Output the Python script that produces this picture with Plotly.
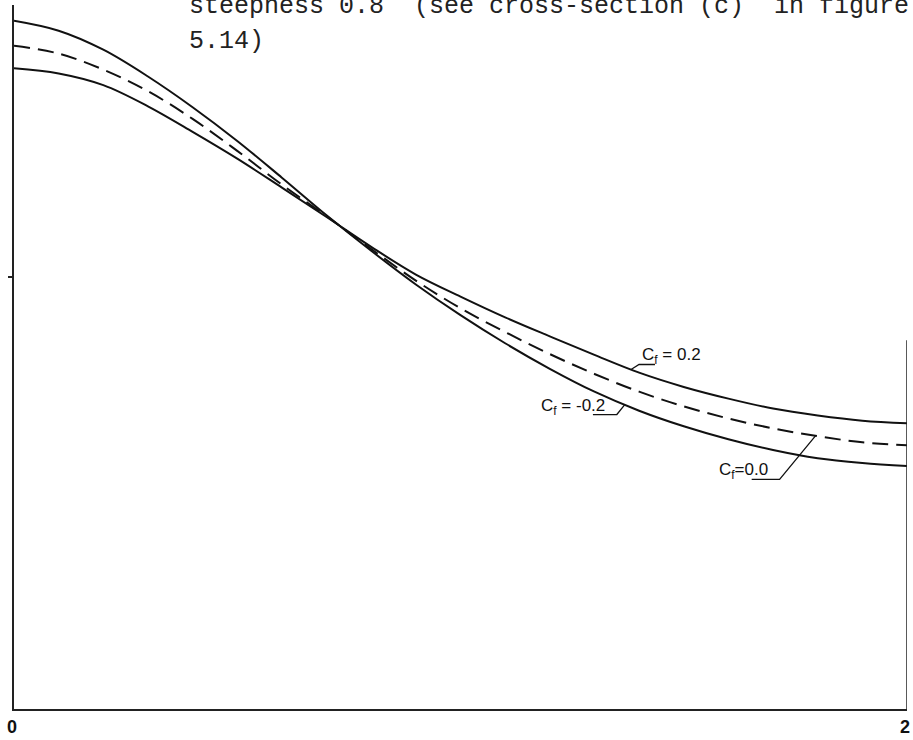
import numpy as np
import plotly.graph_objects as go

# ---- data ----
x_vals = [0.0, 0.1, 0.2, 0.3, 0.4, 0.5, 0.6, 0.7, 0.8, 0.9, 1.0,
          1.1, 1.2, 1.3, 1.4, 1.5, 1.6, 1.7, 1.8, 1.9, 2.0]
y_cf_m02 = [1.592, 1.569, 1.525, 1.463, 1.392, 1.314, 1.229, 1.142, 1.060, 0.982, 0.911,
            0.846, 0.787, 0.734, 0.690, 0.654, 0.624, 0.599, 0.580, 0.569, 0.562]
y_cf_00 = [1.534, 1.516, 1.479, 1.429, 1.365, 1.291, 1.213, 1.140, 1.064, 0.991, 0.927,
           0.872, 0.821, 0.775, 0.734, 0.700, 0.672, 0.649, 0.631, 0.617, 0.610]
y_cf_p02 = [1.482, 1.470, 1.443, 1.394, 1.335, 1.273, 1.206, 1.138, 1.069, 1.005, 0.954,
            0.906, 0.862, 0.819, 0.778, 0.745, 0.718, 0.695, 0.679, 0.667, 0.661]
x_tick_vals = [0, 2]
x_tick_text = ["0", "2"]
y_tick_vals = [1.0]
caption_lines = ["steepness 0.8  (see cross-section (c)  in figure", "5.14)"]
label_texts = ["C<sub>f</sub> = 0.2", "C<sub>f</sub> = -0.2", "C<sub>f</sub>=0.0"]
label_anchor_x = [1.382, 1.368, 1.795]
right_frame_top = 0.853

# ---- layout geometry ----
W, H = 913, 740
ML, MR, MT, MB = 14, 3, 5, 25
PW, PH = W - ML - MR, H - MT - MB
X_RANGE = [0, 2]
Y_RANGE = [0, PH / 436.0]
px_x = (X_RANGE[1] - X_RANGE[0]) / PW   # data units per pixel
px_y = (Y_RANGE[1] - Y_RANGE[0]) / PH

fig = go.Figure()
line_col = "#111111"
line_common = dict(color=line_col, width=2, shape="spline", smoothing=1.0)
fig.add_trace(go.Scatter(x=x_vals, y=y_cf_m02, mode="lines", line=line_common,
                         showlegend=False, hoverinfo="skip"))
fig.add_trace(go.Scatter(x=x_vals, y=y_cf_00, mode="lines",
                         line=dict(line_common, dash="16px,8px"),
                         showlegend=False, hoverinfo="skip"))
fig.add_trace(go.Scatter(x=x_vals, y=y_cf_p02, mode="lines", line=line_common,
                         showlegend=False, hoverinfo="skip"))

# right frame line
fig.add_shape(type="line", xref="x", yref="y", x0=x_vals[-1], x1=x_vals[-1],
              y0=0, y1=right_frame_top, line=dict(color="#222", width=1.5))

# leader lines + labels
curves = [y_cf_p02, y_cf_m02, y_cf_00]
leaders = [
    [(0, 0), (8, -5), (24, -5)],
    [(0, 0), (-8, 10), (-32, 10)],
    [(0, 0), (-36, 44), (-64, 44)],
]
text_pos = [  # (xshift, yshift(up), xanchor)
    (9, 13, "left"),
    (-18, -2, "right"),
    (-45, -35, "right"),
]
lab_font = dict(family="Liberation Sans Narrow, Liberation Sans, Arial", size=17, color="#111")
for i in range(3):
    ax = label_anchor_x[i]
    ay = float(np.interp(ax, x_vals, curves[i]))
    pts = [(ax + dx * px_x, ay - dy * px_y) for dx, dy in leaders[i]]
    path = "M " + " L ".join(f"{px},{py}" for px, py in pts)
    fig.add_shape(type="path", xref="x", yref="y", path=path,
                  line=dict(color="#111", width=1.3))
    xs, ys, xa = text_pos[i]
    fig.add_annotation(x=ax, y=ay, xref="x", yref="y", text=label_texts[i],
                       showarrow=False, xanchor=xa, yanchor="middle",
                       xshift=xs, yshift=ys, font=lab_font)

# caption text (monospace, clipped at the top)
cap_font = dict(family="Liberation Mono, DejaVu Sans Mono, monospace", size=25, color="#222")
for j, t in enumerate(caption_lines):
    base_py = 17 + 35 * j
    fig.add_annotation(x=(188 - ML) / PW, y=1 - (base_py - MT) / PH, xref="paper", yref="paper",
                       text=t, showarrow=False, xanchor="left", yanchor="bottom",
                       yshift=-6, font=cap_font)

fig.update_layout(
    width=W, height=H,
    margin=dict(l=ML, r=MR, t=MT, b=MB),
    paper_bgcolor="white", plot_bgcolor="white",
    xaxis=dict(range=X_RANGE, showgrid=False, zeroline=False, showline=True,
               linecolor="#222", linewidth=2, tickvals=x_tick_vals, ticktext=x_tick_text,
               ticks="", ticklabeloverflow="allow", ticklabelshift=-2,
               tickfont=dict(family="Liberation Sans Narrow, Liberation Sans, Arial",
                             size=18, color="#111", weight="bold")),
    yaxis=dict(range=Y_RANGE, showgrid=False, zeroline=False, showline=True,
               linecolor="#222", linewidth=1.5, tickvals=y_tick_vals, ticktext=[""],
               ticks="outside", ticklen=4, tickcolor="#222", tickwidth=1.5),
)

fig.write_html("out.html")
